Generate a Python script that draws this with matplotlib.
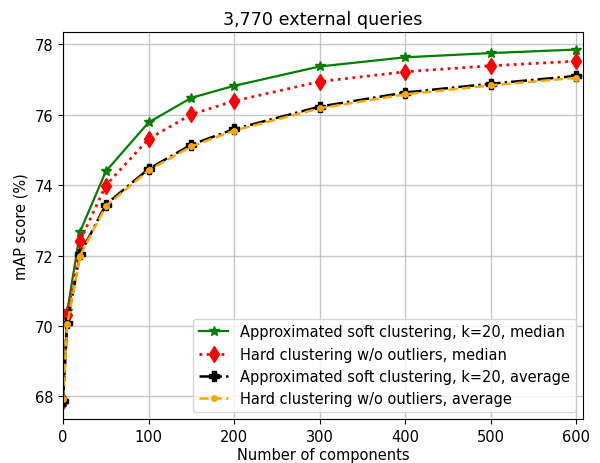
import matplotlib
matplotlib.use("Agg")
import matplotlib.pyplot as plt

components = [0, 5, 20, 50, 100, 150, 200, 300, 400, 500, 600]
soft_median = [67.85, 70.42, 72.68, 74.39, 75.78, 76.48, 76.82, 77.37, 77.63, 77.75, 77.85]
hard_median = [67.87, 70.30, 72.42, 73.99, 75.31, 76.01, 76.39, 76.94, 77.22, 77.39, 77.52]
soft_average = [67.87, 70.08, 72.04, 73.45, 74.46, 75.15, 75.59, 76.23, 76.63, 76.88, 77.10]
hard_average = [67.92, 70.05, 72.00, 73.40, 74.42, 75.10, 75.55, 76.18, 76.58, 76.83, 77.05]

plt.rcParams["font.size"] = 10.5

fig = plt.figure(figsize=(6.0, 4.64), dpi=100)
ax = fig.add_axes([0.105, 0.094, 0.867, 0.835])

ax.plot(components, soft_median, color="green", linestyle="-", marker="*", markersize=7,
        linewidth=1.6, label="Approximated soft clustering, k=20, median")
ax.plot(components, hard_median, color="red", linestyle=":", marker="d", markersize=8.5,
        linewidth=2, label="Hard clustering w/o outliers, median")
ax.plot(components, soft_average, color="black", linestyle="-.", marker="P", markersize=7,
        linewidth=1.8, label="Approximated soft clustering, k=20, average")
ax.plot(components, hard_average, color="orange", linestyle="--", marker=".", markersize=8,
        linewidth=1.8, label="Hard clustering w/o outliers, average")

ax.set_xlim(0, 608)
ax.set_xticks([0, 100, 200, 300, 400, 500, 600])
ax.set_yticks([68, 70, 72, 74, 76, 78])
ax.grid(True, color="#b0b0b0", linewidth=1.0, alpha=0.7)
ax.set_axisbelow(True)
ax.set_title("3,770 external queries")
ax.set_xlabel("Number of components", labelpad=2)
ax.set_ylabel("mAP score (%)")
ax.legend(loc="lower right")

fig.savefig("out.png", dpi=100)
